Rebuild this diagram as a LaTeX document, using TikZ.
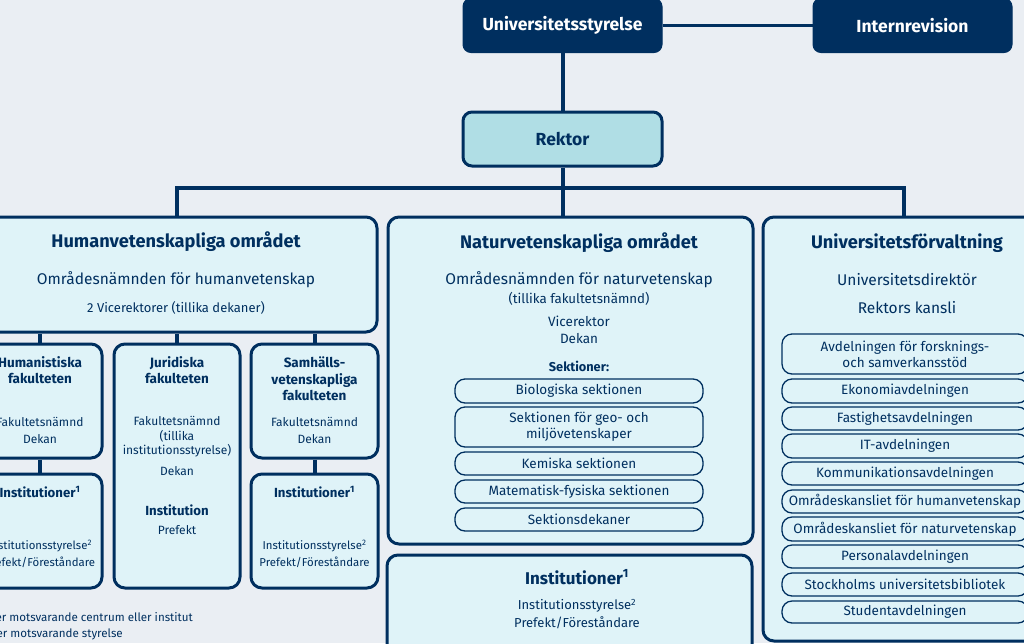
\documentclass[tikz,border=0pt]{standalone}
\usepackage{fontspec}
\setmainfont{Fira Sans}
\usetikzlibrary{calc}
\definecolor{navy}{HTML}{002F5F}
\definecolor{bg}{HTML}{EAEEF3}
\definecolor{boxfill}{HTML}{DFF3F8}
\definecolor{rekfill}{HTML}{B0DEE5}
\newcommand{\fsz}[2]{\fontsize{#1}{#2}\selectfont}
\tikzset{
  topbox/.style={rectangle, rounded corners=8pt, fill=navy, draw=navy, line width=1pt, inner sep=0pt, text=white, font=\fsz{17.5}{20}\bfseries},
  rekbox/.style={rectangle, rounded corners=9pt, fill=rekfill, draw=navy, line width=3pt, inner sep=0pt, text=navy, font=\fsz{17.5}{20}\bfseries},
  bigbox/.style={rectangle, rounded corners=11pt, fill=boxfill, draw=navy, line width=3pt, inner sep=0pt},
  pill/.style={rectangle, rounded corners=10pt, fill=boxfill, draw=navy, line width=1.3pt, inner sep=0pt, text=navy, font=\fsz{13.5}{16}, align=center, minimum width=#1},
  conn/.style={draw=navy, line width=4pt},
  thinconn/.style={draw=navy, line width=3pt},
  txt/.style={text=navy, inner sep=0pt, align=center},
  ttl/.style={txt, font=\fsz{18.2}{21}\bfseries},
  sub/.style={txt, font=\fsz{15.5}{18}},
  sml/.style={txt, font=\fsz{12}{14.5}},
  fhead/.style={txt, font=\fsz{13.5}{16.5}\bfseries},
  ihead/.style={txt, font=\fsz{13.2}{16}\bfseries},
}
\begin{document}
\begin{tikzpicture}[x=1pt,y=-1pt]
\useasboundingbox (0,0) rectangle (1024,643);
\clip (0,0) rectangle (1024,643);
\fill[bg] (0,0) rectangle (1024,643);

% top
\node[topbox, minimum width=199pt, minimum height=54pt] (styr) at (562.5,25.5) {Universitetsstyrelse};
\node[topbox, minimum width=199pt, minimum height=54pt] (intern) at (912.5,25.5) {Internrevision};
\node[rekbox, minimum width=199pt, minimum height=54pt] (rektor) at (562.5,139) {Rektor};

% main boxes
\node[bigbox, minimum width=401pt, minimum height=115pt] (hum) at (176.5,274.5) {};
\node[bigbox, minimum width=365pt, minimum height=327pt] (nat) at (570.5,380.5) {};
\node[bigbox, minimum width=282pt, minimum height=424pt] (fv) at (904,429) {};
\node[bigbox, minimum width=365pt, minimum height=110pt] (inst) at (569.5,610) {};

% faculties
\node[bigbox, minimum width=124pt, minimum height=114pt] (humfak) at (40,401) {};
\node[bigbox, minimum width=126pt, minimum height=244pt] (jurfak) at (177,466) {};
\node[bigbox, minimum width=127pt, minimum height=114pt] (samfak) at (314.5,401) {};
\node[bigbox, minimum width=124pt, minimum height=114pt] (huminst) at (40,531) {};
\node[bigbox, minimum width=127pt, minimum height=114pt] (saminst) at (314.5,531) {};

% connectors
\draw[thinconn] (styr.east) -- (intern.west);
\draw[conn] (rektor.north) -- (styr.south);
\coordinate (bj) at ($(rektor.south)+(0,20)$);
\draw[conn] (rektor.south) -- (rektor.south |- nat.north);
\draw[conn] (hum.north) -- (hum.north |- bj) -- (fv.north |- bj) -- (fv.north);
\draw[conn] (humfak.north) -- (humfak.north |- hum.south);
\draw[conn] (jurfak.north) -- (jurfak.north |- hum.south);
\draw[conn] (samfak.north) -- (samfak.north |- hum.south);
\draw[conn] (humfak.south) -- (huminst.north);
\draw[conn] (samfak.south) -- (saminst.north);

% Humanvetenskapliga
\node[ttl] (humT) at (176,242) {Humanvetenskapliga området};
\node[sub] (humS) at (176,280) {Områdesnämnden för humanvetenskap};
\node[sml, font=\fsz{13}{15}] (humV) at (176,308) {2 Vicerektorer (tillika dekaner)};

\node[fhead] (hfT) at (40,370) {Humanistiska\\fakulteten};
\node[sml, font=\fsz{12}{17}] (hfS) at (40,430.5) {Fakultetsnämnd\\Dekan};
\node[fhead] (jfT) at (177,370) {Juridiska\\fakulteten};
\node[sml] (jfS) at (177,437) {Fakultetsnämnd\\(tillika\\institutionsstyrelse)};
\node[sml] (jfD) at (177,471) {Dekan};
\node[ihead] (jfI) at (177,510) {Institution};
\node[sml] (jfP) at (177,530) {Prefekt};
\node[fhead] (sfT) at (314.5,379) {Samhälls-\\vetenskapliga\\fakulteten};
\node[sml, font=\fsz{12}{17}] (sfS) at (314.5,430.5) {Fakultetsnämnd\\Dekan};

\node[ihead] (hiT) at (40,492) {Institutioner\textsuperscript{1}};
\node[sml, font=\fsz{11.4}{17}] (hiS) at (40,553.5) {Institutionsstyrelse\textsuperscript{2}\\Prefekt/Föreståndare};
\node[ihead] (siT) at (314.5,492) {Institutioner\textsuperscript{1}};
\node[sml, font=\fsz{11.4}{17}] (siS) at (314.5,553.5) {Institutionsstyrelse\textsuperscript{2}\\Prefekt/Föreståndare};

% footnotes
\node[sml, font=\fsz{11.6}{15}, anchor=east] (fn1) at (193,617) {\textsuperscript{1}\,Eller motsvarande centrum eller institut};
\node[sml, font=\fsz{11.6}{15}, anchor=east] (fn2) at (123,634) {\textsuperscript{2}\,Eller motsvarande styrelse};

% Naturvetenskapliga
\node[ttl] (natT) at (579,243) {Naturvetenskapliga området};
\node[sub] (natS) at (579,280) {Områdesnämnden för naturvetenskap};
\node[sml, font=\fsz{13.3}{15}] (natF) at (579,299) {(tillika fakultetsnämnd)};
\node[sml, font=\fsz{13.5}{17}] (natV) at (579,329.5) {Vicerektor\\Dekan};
\node[txt, font=\fsz{12.8}{15}\bfseries] (natK) at (579,366) {Sektioner:};
\node[pill=248pt, minimum height=24pt] (s1) at (579,391) {Biologiska sektionen};
\node[pill=248pt, minimum height=40pt] (s2) at (579,427) {Sektionen för geo- och\\miljövetenskaper};
\node[pill=248pt, minimum height=23pt] (s3) at (579,463.5) {Kemiska sektionen};
\node[pill=248pt, minimum height=23pt] (s4) at (579,491.5) {Matematisk-fysiska sektionen};
\node[pill=248pt, minimum height=23pt] (s5) at (579,519.5) {Sektionsdekaner};

% Institutioner
\node[txt, font=\fsz{17}{20}\bfseries] (instT) at (577,577) {Institutioner\textsuperscript{1}};
\node[sml, font=\fsz{13}{18}] (instS) at (577,614) {Institutionsstyrelse\textsuperscript{2}\\Prefekt/Föreståndare};

% Universitetsförvaltning
\node[ttl] (fvT) at (907,243) {Universitetsförvaltning};
\node[sub] (fvD) at (907,280) {Universitetsdirektör};
\node[sub] (fvK) at (907,308) {Rektors kansli};
\node[pill=246pt, minimum height=40pt] (a1) at (905,354) {Avdelningen för forsknings-\\och samverkansstöd};
\node[pill=246pt, minimum height=24pt] (a2) at (905,391) {Ekonomiavdelningen};
\node[pill=246pt, minimum height=23pt] (a3) at (905,418.5) {Fastighetsavdelningen};
\node[pill=246pt, minimum height=24pt] (a4) at (905,446) {IT-avdelningen};
\node[pill=246pt, minimum height=23pt] (a5) at (905,473.5) {Kommunikationsavdelningen};
\node[pill=246pt, minimum height=23pt] (a6) at (905,501.5) {Områdeskansliet för humanvetenskap};
\node[pill=246pt, minimum height=24pt] (a7) at (905,529) {Områdeskansliet för naturvetenskap};
\node[pill=246pt, minimum height=23pt] (a8) at (905,556.5) {Personalavdelningen};
\node[pill=246pt, minimum height=23pt] (a9) at (905,584.5) {Stockholms universitetsbibliotek};
\node[pill=246pt, minimum height=22pt] (a10) at (905,612) {Studentavdelningen};
\end{tikzpicture}
\end{document}
